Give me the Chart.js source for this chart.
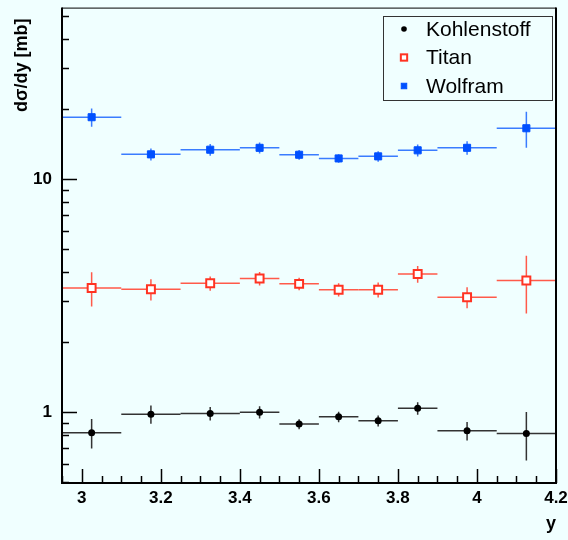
<!DOCTYPE html>
<html>
<head>
<meta charset="utf-8">
<script src="https://cdn.jsdelivr.net/npm/chart.js@4.4.1/dist/chart.umd.min.js"></script>
<style>
  html, body { margin: 0; padding: 0; background: #f0ffff; }
  #wrap { width: 568px; height: 540px; }
</style>
</head>
<body>
<div id="wrap"><canvas id="c" width="568" height="540"></canvas></div>
<script>
/* ── Daten ── */
const binLow    = [2.95, 3.1, 3.25, 3.4, 3.5, 3.6, 3.7, 3.8, 3.9, 4.05];
const binHigh   = [3.1, 3.25, 3.4, 3.5, 3.6, 3.7, 3.8, 3.9, 4.05, 4.2];
const binCenter = [3.025, 3.175, 3.325, 3.45, 3.55, 3.65, 3.75, 3.85, 3.975, 4.125];

const kohlenstoff    = [0.816, 0.98, 0.987, 1.0, 0.889, 0.955, 0.918, 1.04, 0.832, 0.811];
const kohlenstoffErr = [0.118, 0.089, 0.065, 0.061, 0.044, 0.05, 0.049, 0.064, 0.075, 0.19];
const titan          = [3.41, 3.365, 3.57, 3.74, 3.55, 3.35, 3.35, 3.91, 3.11, 3.67];
const titanErr       = [0.57, 0.35, 0.25, 0.25, 0.22, 0.22, 0.25, 0.32, 0.32, 1.02];
const wolfram        = [18.4, 12.75, 13.35, 13.6, 12.7, 12.25, 12.5, 13.27, 13.6, 16.5];
const wolframErr     = [1.66, 0.75, 0.76, 0.73, 0.62, 0.5, 0.65, 0.8, 0.9, 2.9];

const seriesNames = ['Kohlenstoff', 'Titan', 'Wolfram'];
const yTitle      = 'dσ/dy [mb]';
const xTicks      = [3, 3.2, 3.4, 3.6, 3.8, 4, 4.2];
const xMinorStep  = 0.05;
const yTicks      = [1, 10];
const yMinor      = [0.5, 0.6, 0.7, 0.8, 0.9, 2, 3, 4, 5, 6, 7, 8, 9, 20, 30, 40, 50];

const FONT = '"Liberation Sans", Arial, Helvetica, sans-serif';

function points(vals, errs) {
  return vals.map((v, i) => ({ x: binCenter[i], y: v, xl: binLow[i], xh: binHigh[i], e: errs[i] }));
}

const styles = [
  { line: '#333333', color: '#000000', fill: '#000000', pointStyle: 'circle', radius: 3.5, bw: 0 },
  { line: '#ff5a4a', color: '#ff3322', fill: '#ffffff', pointStyle: 'rect', radius: 5.6, bw: 2 },
  { line: '#3a7cff', color: '#0050ff', fill: '#0050ff', pointStyle: 'rect', radius: 5, bw: 1 }
];

/* ── Fehlerbalken ── */
const errorBars = {
  id: 'errorBars',
  beforeDatasetsDraw(chart) {
    const { ctx, scales: { x, y } } = chart;
    ctx.save();
    chart.data.datasets.forEach((ds, di) => {
      ctx.strokeStyle = styles[di].line;
      ctx.lineWidth = 1.5;
      ds.data.forEach(p => {
        const py = y.getPixelForValue(p.y);
        const px = x.getPixelForValue(p.x);
        ctx.beginPath();
        ctx.moveTo(x.getPixelForValue(p.xl), py);
        ctx.lineTo(x.getPixelForValue(p.xh), py);
        ctx.moveTo(px, y.getPixelForValue(p.y + p.e));
        ctx.lineTo(px, y.getPixelForValue(p.y - p.e));
        ctx.stroke();
      });
    });
    ctx.restore();
  }
};

/* ── Rahmen, Ticks nach innen, Achsentitel, Legende ── */
const frame = {
  id: 'frame',
  afterDraw(chart) {
    const { ctx, chartArea: a, scales: { x, y } } = chart;
    ctx.save();
    ctx.strokeStyle = '#000';
    ctx.lineWidth = 1;
    ctx.beginPath();
    ctx.moveTo(a.left, a.top + 0.5);
    ctx.lineTo(a.right, a.top + 0.5);
    ctx.stroke();
    ctx.lineWidth = 2;
    ctx.beginPath();
    ctx.moveTo(a.left, a.top);
    ctx.lineTo(a.left, a.bottom);
    ctx.lineTo(a.right, a.bottom);
    ctx.lineTo(a.right, a.top);
    ctx.stroke();

    // x ticks
    ctx.lineWidth = 1.5;
    ctx.beginPath();
    for (let v = x.min; v <= x.max + 1e-9; v += xMinorStep) {
      const px = Math.round(x.getPixelForValue(v)) + 0.5;
      const major = xTicks.some(t => Math.abs(t - v) < 1e-6);
      ctx.moveTo(px, a.bottom);
      ctx.lineTo(px, a.bottom - (major ? 14 : 7));
    }
    // y ticks
    yTicks.forEach(v => {
      const py = Math.round(y.getPixelForValue(v)) + 0.5;
      ctx.moveTo(a.left, py);
      ctx.lineTo(a.left + 15, py);
    });
    yMinor.forEach(v => {
      const py = Math.round(y.getPixelForValue(v)) + 0.5;
      ctx.moveTo(a.left, py);
      ctx.lineTo(a.left + 7, py);
    });
    ctx.stroke();

    // y Titel (oben ausgerichtet wie ROOT)
    ctx.save();
    ctx.translate(22, a.top + 11);
    ctx.rotate(-Math.PI / 2);
    ctx.fillStyle = '#000';
    ctx.font = 'bold 18px ' + FONT;
    ctx.textAlign = 'right';
    ctx.textBaseline = 'middle';
    ctx.fillText(yTitle, 0, 0);
    ctx.restore();

    // Legende
    const lx = 383, ly = 16, lw = 169, lh = 84;
    ctx.fillStyle = '#f0ffff';
    ctx.fillRect(lx, ly, lw, lh);
    ctx.lineWidth = 1;
    ctx.strokeStyle = '#333';
    ctx.strokeRect(lx + 0.5, ly + 0.5, lw, lh);
    ctx.font = '21px ' + FONT;
    ctx.textBaseline = 'middle';
    ctx.textAlign = 'left';
    seriesNames.forEach((name, i) => {
      const cy = ly + 13 + i * 28.5;
      const s = styles[i];
      ctx.fillStyle = s.fill;
      ctx.strokeStyle = s.color;
      if (s.pointStyle === 'circle') {
        ctx.beginPath();
        ctx.arc(404, cy, 2.8, 0, Math.PI * 2);
        ctx.fill();
      } else {
        const h = s.radius * Math.SQRT1_2 - 0.8;
        ctx.fillRect(404 - h, cy - h, 2 * h, 2 * h);
        ctx.lineWidth = s.bw;
        ctx.strokeRect(404 - h, cy - h, 2 * h, 2 * h);
      }
      ctx.fillStyle = '#000';
      ctx.fillText(name, 426, cy + 1);
    });
    ctx.restore();
  }
};

const bg = {
  id: 'bg',
  beforeDraw(chart) {
    const { ctx } = chart;
    ctx.save();
    ctx.fillStyle = '#f0ffff';
    ctx.fillRect(0, 0, chart.width, chart.height);
    ctx.restore();
  }
};

const allData = [points(kohlenstoff, kohlenstoffErr), points(titan, titanErr), points(wolfram, wolframErr)];

new Chart(document.getElementById('c'), {
  type: 'scatter',
  data: {
    datasets: allData.map((d, i) => ({
      label: seriesNames[i],
      data: d,
      showLine: false,
      pointStyle: styles[i].pointStyle,
      pointRadius: styles[i].radius,
      pointBackgroundColor: styles[i].fill,
      pointBorderColor: styles[i].color,
      pointBorderWidth: styles[i].bw,
      pointHoverRadius: styles[i].radius
    }))
  },
  options: {
    responsive: false,
    animation: false,
    layout: { padding: { left: 0, right: 12, top: 6, bottom: 0 } },
    plugins: { legend: { display: false }, tooltip: { enabled: false } },
    scales: {
      x: {
        type: 'linear',
        min: 2.95,
        max: 4.2,
        grid: { display: false },
        border: { display: false },
        afterBuildTicks: s => { s.ticks = xTicks.map(v => ({ value: v })); },
        afterFit: s => { s.height = 57; s.paddingLeft = 0; s.paddingRight = 0; },
        ticks: {
          autoSkip: false, maxRotation: 0, padding: -3,
          color: '#000', font: { family: FONT, size: 17, weight: 'bold' },
          callback: v => String(v)
        },
        title: {
          display: true, text: 'y', align: 'end', color: '#000',
          font: { family: FONT, size: 18, weight: 'bold' },
          padding: { top: 0, bottom: 5 }
        }
      },
      y: {
        type: 'logarithmic',
        min: 0.497,
        max: 54.3,
        grid: { display: false },
        border: { display: false },
        afterBuildTicks: s => { s.ticks = yTicks.map(v => ({ value: v })); },
        afterFit: s => { s.width = 62; s.paddingTop = 0; s.paddingBottom = 0; },
        ticks: {
          autoSkip: false, padding: 2,
          color: '#000', font: { family: FONT, size: 17, weight: 'bold' },
          callback: v => String(v)
        },
        title: { display: false }
      }
    }
  },
  plugins: [bg, errorBars, frame]
});
</script>
</body>
</html>
